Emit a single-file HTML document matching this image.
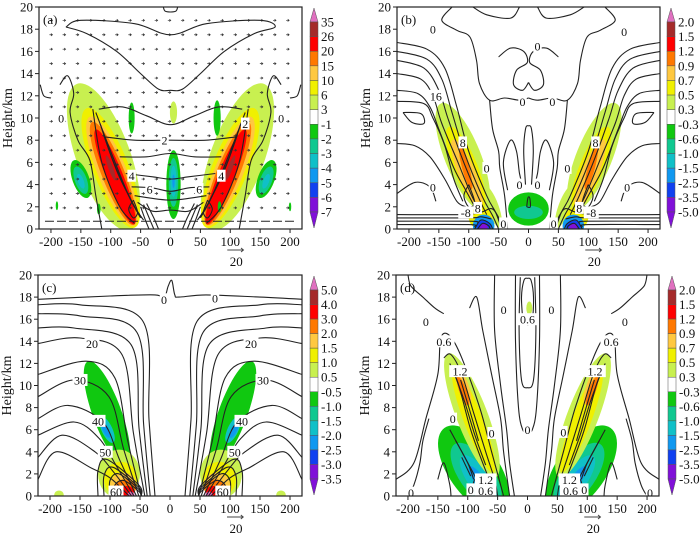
<!DOCTYPE html>
<html><head><meta charset="utf-8">
<style>
body{margin:0;background:#fff;width:700px;height:537px;overflow:hidden}
svg{display:block}
text{font-family:"Liberation Serif",serif;fill:#111}
</style></head>
<body>
<svg id="fig" width="700" height="537" viewBox="0 0 700 537" xmlns="http://www.w3.org/2000/svg"></svg>
<script>
// ---- data ----
const xTicks=[-200,-150,-100,-50,0,50,100,150,200];
const yTicks=[0,2,4,6,8,10,12,14,16,18,20];
const cbLabelsA=["35","26","20","15","10","6","3","-1","-2","-3","-4","-5","-6","-7"];
const cbLabelsB=["2.0","1.5","1.2","0.9","0.7","0.5","0.3","-0.3","-0.6","-1.0","-1.5","-2.5","-3.5","-5.0"];
const cbLabelsC=["5.0","4.0","3.0","2.0","1.5","1.0","0.5","-0.5","-1.0","-1.5","-2.0","-2.5","-3.0","-3.5"];
const cbLabelsD=["2.0","1.5","1.2","0.9","0.7","0.5","0.3","-0.3","-0.6","-1.0","-1.5","-2.5","-3.5","-5.0"];
const palette=["#e070c0","#a52a2a","#ff0000","#ff7800","#ffc840","#f0f000","#c8f050","#ffffff","#10c810","#10c890","#10c0c8","#1098f0","#1040f0","#8010d8","#8010d8"];
// blobs: [x, z, halfWidth(units), halfLen(km), angleDeg, colorIdx, mirror]
const blobsA=[[-112,6.5,45,7.0,-20,6,1],[-100,5.5,30,5.8,-22,5,1],[-98,5.2,24,5.3,-22,4,1],[-96,5,19,5,-22,3,1],[-93,4.7,14,4.6,-22,2,1],[-100,5.5,4,1.2,-20,1,1],
 [5,4,12,3.1,0,8,0],[5,4.2,8,2.2,0,9,0],[5,4.3,5,1.4,0,10,0],[5,4.3,2,0.6,0,11,0],[5,10.5,6,1,0,6,0],
 [-65,10,5,1.4,0,8,0],[78,10,6,1.6,0,8,0],
 [-150,4.5,14,1.8,-20,8,0],[-150,4.4,10,1.3,-20,9,0],[-150,4.3,5,0.7,-20,10,0],
 [160,4.5,14,1.8,20,8,0],[160,4.4,10,1.3,20,9,0],[160,4.3,5,0.7,20,10,0],
 [-190,2.1,2,0.4,0,8,0],[-120,1.8,3,0.5,0,8,0],[82,2,3,0.5,0,8,0],[200,2,2,0.4,0,8,0]];
const blobsB=[[-110,6.5,30,5.2,-22,6,1],[-60,2,10,2,-20,6,1],[-105,5.5,20,4,-22,5,1],[-103,5,14,3.3,-22,4,1],[-105,5.5,6,2,-15,3,1],
 [-80,1,20,1,0,5,1],[0,1.8,34,1.5,0,8,0],[0,1.5,24,0.6,0,9,0],
 [-75,0.3,18,1,0,11,1],[-75,0.2,12,0.6,0,12,1],[-75,0.1,7,0.4,0,13,1]];
const blobsC=[[-105,7.5,24,5,-20,8,1],[-105,6,9,1.3,-25,10,1],[-107,6,5,0.8,-25,11,1],
 [-85,2,35,2.2,0,6,1],[-82,1.5,28,1.6,0,5,1],[-78,1,22,1.1,0,4,1],[-75,0.7,18,0.8,0,3,1],[-72,0.4,12,0.5,0,2,1],[-65,0.1,6,0.3,0,0,1],[-185,0.1,8,0.4,0,6,1]];
const blobsD=[[-90,2.4,42,4.6,-35,8,1],[-86,1.9,28,3.4,-35,9,1],[-82,1.5,18,2.6,-35,10,1],[-78,1.2,9,1.8,-35,11,1],
 [-93,7.3,26,6,-21,6,1],[-90,6.8,16,5,-21,5,1],[-108,10,9,1.8,-20,4,1],[-108,9.5,6,1.4,-20,3,1],[3,17,5,0.6,0,6,0]];
// contour lines [mirror, points]
const linesA=[[0,[[-175,18.2],[-140,17.6],[-90,16],[-50,14],[-20,12.6],[0,12.5],[20,12.6],[50,14],[90,16],[140,17.6],[175,18.2],[150,18.8],[60,18.5],[0,17.5],[-60,18.5],[-150,18.8],[-175,18.2]]],
 [0,[[-12,20],[-8,19.6],[8,19.6],[12,20]]],
 [0,[[-120,10.8],[-80,11],[-40,10.2],[0,9.4],[40,10.2],[80,11],[120,10.8]]],
 [0,[[-110,8.3],[-60,8],[0,8],[60,8],[110,8.3]]],
 [0,[[-85,6.5],[-40,6.5],[0,6.8],[40,6.5],[85,6.5]]],
 [0,[[-75,5],[-30,4.7],[0,4.5],[30,4.7],[75,5]]],
 [0,[[-65,3.8],[-30,3.7],[0,3.4],[30,3.7],[65,3.8]]],
 [0,[[-60,3],[0,2.6],[60,3]]],
 [0,[[-55,2.4],[-30,1.6],[0,1.7],[30,1.6],[55,2.4]]],
 [1,[[-50,2],[-42,0.8],[-36,0]]],[1,[[-45,2.2],[-35,0.9],[-28,0]]],[1,[[-40,2.3],[-28,1],[-20,0]]],
 [1,[[-218,13],[-212,12],[-200,11.8]]],
 [1,[[-185,13],[-172,13.8],[-162,12.2],[-168,10.5],[-155,8],[-135,6.2],[-125,3],[-115,0]]],
 [1,[[-130,10.8],[-115,6],[-85,2],[-60,0.5]]],[1,[[-125,10.5],[-100,7],[-70,3],[-50,1]]],
 [1,[[-118,9.5],[-95,6],[-65,2.5],[-48,1]]],[1,[[-112,8.5],[-88,5],[-60,2],[-45,0.8]]],
 [1,[[-62,2.6],[-55,1.5],[-62,1],[-70,1.8],[-62,2.6]]]];
const linesB=[[1,[[-220,16.8],[-170,16.2],[-140,14.5],[-120,11],[-100,7],[-70,3],[-55,1.5],[-45,0]]],
 [1,[[-220,16],[-170,15.3],[-145,13.5],[-128,10.5],[-108,7],[-78,3],[-60,1.2],[-50,0]]],
 [1,[[-220,15.2],[-175,14.5],[-150,12.5],[-135,10],[-112,6.5],[-85,3],[-70,1.3]]],
 [1,[[-220,14],[-180,13.5],[-160,12],[-145,9.5],[-118,6],[-95,3],[-80,1.5]]],
 [1,[[-220,12.5],[-185,12.2],[-165,11],[-150,9],[-125,5.5],[-105,3.5],[-90,2]]],
 [1,[[-220,11.5],[-175,11.3],[-160,10],[-140,7.5],[-125,4.5],[-110,2.5]]],
 [1,[[-210,10.5],[-195,9.6],[-175,9.5],[-180,10.4],[-210,10.5]]],
 [1,[[-220,7.7],[-190,7.5],[-165,6.5],[-140,4.5],[-120,2.5],[-105,2]]],
 [1,[[-220,3.2],[-190,4.2],[-165,3.8],[-155,2.5]]],
 [1,[[-100,4],[-108,3],[-100,2],[-90,2.4],[-100,4]]],
 [1,[[-220,1.3],[-110,1.3],[-80,1.5],[-60,1.8],[-45,0.5]]],[1,[[-220,1.0],[-100,1.0],[-80,1.1],[-62,0.9]]],
 [1,[[-220,0.7],[-100,0.7],[-85,0.6]]],[1,[[-220,0.4],[-100,0.4],[-90,0.2]]],
 [1,[[-90,0],[-80,0.8],[-65,0.5],[-60,0]]],[1,[[-85,0],[-77,0.5],[-67,0.3],[-64,0]]],
 [1,[[-128,20],[-145,18.8],[-120,17.9],[-98,17.3],[-87,15.2],[-82,13.1],[-65,11.6],[-40,11.8],[-15,11.6],[0,11.8]]],
 [1,[[-93,20],[-70,19.3],[-30,19],[-15,20]]],
 [1,[[-50,15.5],[-30,16.3],[-8,16],[-2,15],[-20,14.3],[-25,13],[-10,12.5],[0,13.2]]],
 [1,[[-65,11.6],[-60,9],[-50,7],[-48,5.5],[-40,3],[-35,0]]],
 [1,[[-35,3.5],[-42,6],[-30,8],[-20,7],[-15,5],[-10,4]]],
 [0,[[-5,4],[-8,7],[-5,9],[0,9.3],[5,9],[8,7],[5,4]]],
 [0,[[-3,2],[-1,2.8],[2,2.8],[3,2],[-3,2]]]];
// arches for c: [zLeft, zPeak, xPeak, xDescend, xBottom]
const archesC=[[17.3,17.3,-150,-45,-25],[16.5,16.3,-150,-55,-33],[15.2,15.2,-160,-65,-38],[13.8,14.3,-150,-80,-42],[11,12.2,-140,-92,-48],[9,10.5,-160,-102,-52],[7,8.2,-170,-112,-56],[5.5,6.7,-160,-118,-60],[3.5,5.5,-180,-125,-64],[1.5,4,-190,-130,-68]];
const loopsC=[[-120,3.3],[-110,2.6],[-100,2.0],[-92,1.4]];
const linesD=[[0,[[-20,20],[-20,14],[-15,8],[-8,6],[0,5.8],[8,6],[15,8],[20,14],[20,20]]],
 [0,[[-12,19.8],[-14,15],[-10,10.5],[0,9.8],[10,10.5],[14,15],[12,19.8]]],
 [0,[[-8,16],[-10,18],[-6,19.5],[0,19.7],[6,19.5],[10,18],[8,16],[0,15.5],[-8,16]]],
 [1,[[-220,1.5],[-190,3],[-170,7],[-150,11],[-145,14.3],[-130,14.5],[-110,12.5],[-80,8],[-60,4],[-45,1],[-40,0]]],
 [1,[[-140,12.5],[-128,12.8],[-110,11],[-90,7.5],[-70,4],[-55,1.5],[-50,0]]],
 [1,[[-130,12],[-115,10],[-95,6],[-75,3],[-60,1]]],[1,[[-122,11],[-105,8.5],[-88,5.5],[-70,2.8]]],
 [1,[[-112,10.5],[-98,8],[-82,5]]],
 [1,[[-130,6],[-110,4],[-90,2],[-80,0.8]]],[1,[[-120,5],[-100,3],[-90,1.5]]],[1,[[-110,3.5],[-95,1.8]]],
 [1,[[-95,0],[-88,1.5],[-75,1.2],[-70,0]]],
 [1,[[-200,20],[-195,19],[-175,18],[-155,17],[-140,16.5]]],
 [1,[[-165,7],[-175,5],[-180,3],[-190,1],[-200,0]]],
 [1,[[-97,17],[-85,18],[-75,15],[-60,11],[-45,7],[-40,4],[-30,0]]],
 [1,[[-55,20],[-55,15],[-45,10],[-35,6],[-30,3],[-22,0]]],
 [1,[[-150,1.5],[-140,3],[-130,1],[-128,0]]]];
const labelsA=[["0",-183,10],["0",185,10],["2",-10,8],["2",125,9.5],["4",-65,4.8],["4",85,4.8],["6",-35,3.6],["6",48,3.6]];
const labelsB=[["16",-155,12],["8",-110,7.8],["8",112,7.8],["0",-160,18],["0",160,17.8],["0",15,16.5],["0",-10,11.5],["0",40,11.5],["0",-70,5.5],["0",65,5.5],["0",-15,4],["0",15,4],["0",-160,3.8],["0",165,3.8],["8",-85,1.9],["8",85,1.9],["-8",-105,1.5],["-8",105,1.5],["0",-42,0.5],["0",42,0.5]];
const labelsC=[["0",-10,17.8],["0",75,17.9],["20",-130,13.8],["20",135,13.8],["30",-150,10.5],["30",155,10.5],["40",-120,6.8],["40",120,6.8],["50",-108,4],["50",108,4],["60",-90,0.4],["60",88,0.4]];
const labelsD=[["0",-125,7],["0",-170,15.8],["0",163,15.8],["0",-60,5.7],["0",-195,0.3],["0",205,0.3],["0",0,6],["0",-40,16.9],["0",40,16.9],["0",60,5.8],["0.6",-140,14],["0.6",140,14],["0.6",0,16],["1.2",-113,11.3],["1.2",113,11.3],["1.2",-70,1.5],["1.2",70,1.5],["0.6",-70,0.5],["0.6",72,0.5],["0",-95,0.6],["0",95,0.6]];

// ---- drawing ----
const NS="http://www.w3.org/2000/svg";
const fig=document.getElementById('fig');
function mk(tag,attrs,parent){const e=document.createElementNS(NS,tag);for(const k in attrs)e.setAttribute(k,attrs[k]);(parent||fig).appendChild(e);return e;}
function smooth(pts){if(pts.length<3)return "M"+pts.map(p=>p.join(",")).join("L");let d="M"+pts[0][0].toFixed(1)+","+pts[0][1].toFixed(1);for(let i=0;i<pts.length-1;i++){const p0=pts[i-1]||pts[i],p1=pts[i],p2=pts[i+1],p3=pts[i+2]||p2;const c1=[p1[0]+(p2[0]-p0[0])/6,p1[1]+(p2[1]-p0[1])/6],c2=[p2[0]-(p3[0]-p1[0])/6,p2[1]-(p3[1]-p1[1])/6];d+="C"+c1.map(v=>v.toFixed(1)).join(",")+" "+c2.map(v=>v.toFixed(1)).join(",")+" "+p2.map(v=>v.toFixed(1)).join(",");}return d;}

function panel(P){
  const g=mk('g',{});
  
  
  const sx=x=>P.l+(x+220)*(P.r-P.l)/440, sy=z=>P.b-z*(P.b-P.t)/20;
  const cid='clip'+P.id;
  const cp=mk('clipPath',{id:cid},g);mk('rect',{x:P.l,y:P.t,width:P.r-P.l,height:P.b-P.t},cp);
  const plot=mk('g',{'clip-path':'url(#'+cid+')'},g);
  
  
  const kx=(P.r-P.l)/440, kz=(P.b-P.t)/20;
  P.blobs.forEach(b=>{
    const list=[[b[0],b[4]]];if(b[6])list.push([-b[0],-b[4]]);
    list.forEach(([x,a])=>{const e=mk('ellipse',{cx:sx(x),cy:sy(b[1]),rx:b[2]*kx,ry:b[3]*kz,fill:palette[b[5]],transform:`rotate(${a} ${sx(x)} ${sy(b[1])})`},plot);
      
      });
  });
  if(P.arrows){
    for(let x=-200;x<=200;x+=22)for(let z=1.9;z<19;z+=1.3){
      const X=sx(x),Y=sy(z);
      const a=mk('path',{d:`M${X-1.5},${Y}L${X+1.5},${Y}M${X},${Y-1.2}L${X+1.5},${Y}L${X},${Y+1.2}`,stroke:'#333','stroke-width':0.7,fill:'none'},plot);
      
      
    }
    const bl=mk('line',{x1:sx(-210),y1:sy(0.7),x2:sx(210),y2:sy(0.7),stroke:'#222','stroke-width':1,'stroke-dasharray':'9,3'},plot);
    
    
  }
  const drawLine=pts=>{const p=mk('path',{d:smooth(pts.map(q=>[sx(q[0]),sy(q[1])])),fill:'none',stroke:'#222','stroke-width':1.1},plot);
    
    };
  (P.lines||[]).forEach(L=>{drawLine(L[1]);if(L[0])drawLine(L[1].map(q=>[-q[0],q[1]]));});
  (P.arches||[]).forEach(A=>{const pts=[[-220,A[0]],[A[2],A[1]],[A[3],A[1]-1.5],[(A[3]+A[4])/2,A[1]*0.4],[A[4],0]];drawLine(pts);drawLine(pts.map(q=>[-q[0],q[1]]));});
  (P.loops||[]).forEach(L=>{const pts=[[L[0],0],[L[0],L[1]*0.7],[L[0]+15,L[1]],[-52,L[1]*0.3],[-48,0]];drawLine(pts);drawLine(pts.map(q=>[-q[0],q[1]]));});
  if(P.zeroTop){drawLine([[-220,17.8],[-100,18.1],[-25,18.2],[-10,17.9],[-3,19],[3,19.5],[8,18.2],[15,18],[60,18.2],[150,18],[220,17.8]]);}
  (P.labels||[]).forEach(L=>{const w=L[0].length*6.5+2;mk('rect',{x:sx(L[1])-w/2,y:sy(L[2])-6,width:w,height:12,fill:'#fff'},plot);
    const t=mk('text',{x:sx(L[1]),y:sy(L[2])+4.5,'text-anchor':'middle','font-size':12,fill:P.labelColor||'#222'},plot);t.textContent=L[0];
    
    });
  const fr=mk('rect',{x:P.l,y:P.t,width:P.r-P.l,height:P.b-P.t,fill:'none',stroke:'#222','stroke-width':1.2},g);
  
  
  xTicks.forEach(v=>{mk('line',{x1:sx(v),y1:P.b,x2:sx(v),y2:P.b+4,stroke:'#222'},g);
    const t=mk('text',{x:sx(v),y:P.b+17,'text-anchor':'middle','font-size':13},g);t.textContent=v;
    
    });
  yTicks.forEach(v=>{mk('line',{x1:P.l-4,y1:sy(v),x2:P.l,y2:sy(v),stroke:'#222'},g);
    const t=mk('text',{x:P.l-6,y:sy(v)+4.5,'text-anchor':'end','font-size':13},g);t.textContent=v;
    
    });
  const yt=mk('text',{x:0,y:0,'text-anchor':'middle','font-size':14,transform:`translate(${P.l-27},${(P.t+P.b)/2}) rotate(-90)`},g);yt.textContent='Height/km';
  
  
  const pl=mk('text',{x:P.l+4,y:P.t+17,'font-size':13},g);pl.textContent='('+P.id+')';
  
  
  const ra=mk('path',{d:`M${sx(95)},${P.b+21}L${sx(122)},${P.b+21}M${sx(118)},${P.b+19}L${sx(122)},${P.b+21}L${sx(118)},${P.b+23}`,stroke:'#444','stroke-width':1,fill:'none'},g);
  
  
  const rt=mk('text',{x:sx(110),y:P.b+37,'text-anchor':'middle','font-size':13},g);rt.textContent='20';
  
  
  const cb=mk('g',{},g);
  
  
  const cx=P.cbx,cw=8,top=P.t+15,step=(P.b-P.t-32)/13;
  mk('path',{d:`M${cx},${top}L${cx+cw/2},${top-14}L${cx+cw},${top}Z`,fill:palette[0],stroke:'#555','stroke-width':0.5},cb);
  for(let i=0;i<13;i++)mk('rect',{x:cx,y:top+i*step,width:cw,height:step,fill:palette[i+1],stroke:'#555','stroke-width':0.5},cb);
  const bot=top+13*step;
  mk('path',{d:`M${cx},${bot}L${cx+cw/2},${bot+16}L${cx+cw},${bot}Z`,fill:palette[14],stroke:'#555','stroke-width':0.5},cb);
  P.cbLabels.forEach((s,i)=>{const t=mk('text',{x:cx+cw+3,y:top+i*step+4.5,'font-size':13},cb);t.textContent=s;
    
    });
}
panel({id:'a',l:39,r:302,t:7,b:229,cbx:310,cbLabels:cbLabelsA,blobs:blobsA,lines:linesA,labels:labelsA,arrows:true});
panel({id:'b',l:397,r:660,t:7,b:229,cbx:667,cbLabels:cbLabelsB,blobs:blobsB,lines:linesB,labels:labelsB,labelColor:'#888'});
panel({id:'c',l:38,r:302,t:275,b:496,cbx:310,cbLabels:cbLabelsC,blobs:blobsC,arches:archesC,loops:loopsC,labels:labelsC,zeroTop:true});
panel({id:'d',l:396,r:659,t:275,b:496,cbx:668,cbLabels:cbLabelsD,blobs:blobsD,lines:linesD,labels:labelsD});
</script>
</body></html>
